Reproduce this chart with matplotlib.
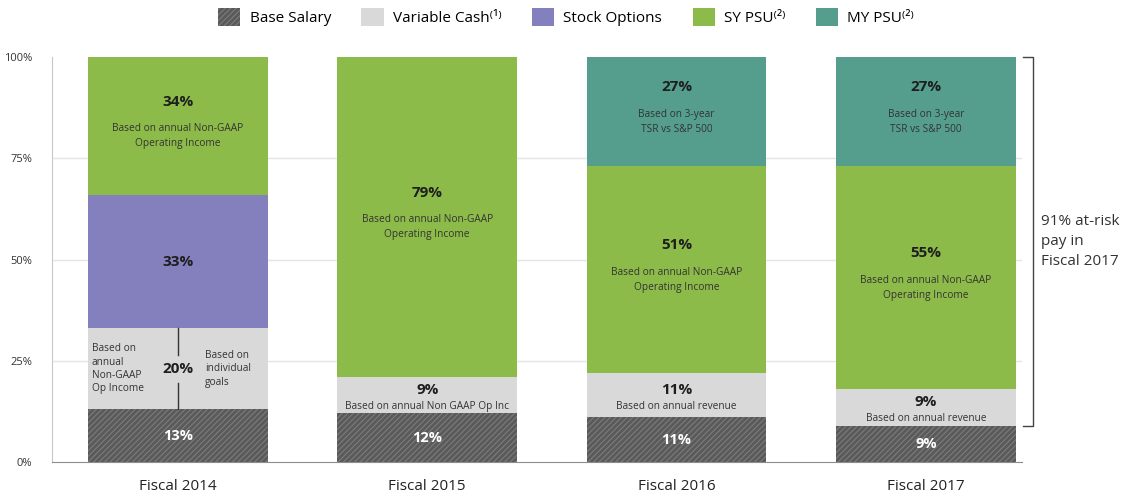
import matplotlib.pyplot as plt
import matplotlib.patches as mpatches

plt.rcParams['font.family'] = ['Open Sans', 'DejaVu Sans']
plt.rcParams['hatch.linewidth'] = 0.8

years = ['Fiscal 2014', 'Fiscal 2015', 'Fiscal 2016', 'Fiscal 2017']
components = ['Base Salary', 'Variable Cash\u207d\u00b9\u207e', 'Stock Options',
              'SY PSU\u207d\u00b2\u207e', 'MY PSU\u207d\u00b2\u207e']
base_salary = [13, 12, 11, 9]
variable_cash = [20, 9, 11, 9]
stock_options = [33, 0, 0, 0]
sy_psu = [34, 79, 51, 55]
my_psu = [0, 0, 27, 27]

var_notes = [None, 'Based on annual Non GAAP Op Inc',
             'Based on annual revenue', 'Based on annual revenue']
var_split_notes = ['Based on\nannual\nNon-GAAP\nOp Income', 'Based on\nindividual\ngoals']
sy_note = 'Based on annual Non-GAAP\nOperating Income'
my_note = 'Based on 3-year\nTSR vs S&P 500'
at_risk = 91

colors = ['#5a5a5a', '#d9d9d9', '#8480be', '#8dbb49', '#559e8e']

fig = plt.figure(figsize=(11.28, 4.98), dpi=100)
ax = fig.add_axes([0.046, 0.0723, 0.86, 0.8132])

x = list(range(len(years)))
w = 0.72
series = [base_salary, variable_cash, stock_options, sy_psu, my_psu]
bottoms = [0] * len(years)
seg = []
for k, vals in enumerate(series):
    if k == 0:
        ax.bar(x, vals, w, bottom=bottoms, color=colors[k], edgecolor='#7c7c7c',
               hatch='//////', linewidth=0, zorder=2)
    else:
        ax.bar(x, vals, w, bottom=bottoms, color=colors[k], linewidth=0, zorder=2)
    seg.append(list(zip(bottoms, vals)))
    bottoms = [b + v for b, v in zip(bottoms, vals)]

txt = '#1e1e1e'
note_c = '#333333'
for i in x:
    # base salary
    b, v = seg[0][i]
    ax.text(i, b + v / 2, f'{v}%', color='white', ha='center', va='center',
            fontsize=10.5, fontweight='bold', zorder=3)
    # variable cash
    b, v = seg[1][i]
    if var_notes[i] is None:
        ax.text(i, b + v / 2, f'{v}%', color=txt, ha='center', va='center',
                fontsize=11, fontweight='bold', zorder=3)
        ax.text(i - 0.345, b + v / 2, var_split_notes[0], color=note_c, ha='left',
                va='center', fontsize=7.3, linespacing=1.3, zorder=3)
        ax.text(i + 0.108, b + v / 2, var_split_notes[1], color=note_c, ha='left',
                va='center', fontsize=7.3, linespacing=1.3, zorder=3)
        ax.plot([i, i], [b + v, b + v * 0.665], color='#333333', lw=1, zorder=3)
        ax.plot([i, i], [b + v * 0.325, b], color='#333333', lw=1, zorder=3)
    else:
        ax.text(i, b + v / 2 + 1.3, f'{v}%', color=txt, ha='center', va='center',
                fontsize=11, fontweight='bold', zorder=3)
        ax.text(i, b + v / 2 - 2.8, var_notes[i], color=note_c, ha='center',
                va='center', fontsize=7.3, zorder=3)
    # stock options
    b, v = seg[2][i]
    if v:
        ax.text(i, b + v / 2, f'{v}%', color=txt, ha='center', va='center',
                fontsize=11, fontweight='bold', zorder=3)
    # SY / MY PSU
    for k, note in [(3, sy_note), (4, my_note)]:
        b, v = seg[k][i]
        if v:
            c = b + v / 2
            ax.text(i, c + 6, f'{v}%', color=txt, ha='center', va='center',
                    fontsize=11, fontweight='bold', zorder=3)
            ax.text(i, c - 2.5, note, color=note_c, ha='center', va='center',
                    fontsize=7.3, linespacing=1.45, zorder=3)

ax.set_xlim(-0.505, 3.385)
ax.set_ylim(0, 100)
ax.set_yticks([0, 25, 50, 75, 100])
ax.set_yticklabels(['0%', '25%', '50%', '75%', '100%'], fontsize=8, color='#333333')
ax.set_xticks(x)
ax.set_xticklabels(years, fontsize=11, color='#222222')
ax.tick_params(length=0)
ax.tick_params(axis='y', pad=14)
ax.tick_params(axis='x', pad=12)
for yv in [25, 50, 75]:
    ax.axhline(yv, color='#e4e4e4', lw=1, zorder=1)
for s in ['top', 'right']:
    ax.spines[s].set_visible(False)
ax.spines['left'].set_color('#c8c8c8')
ax.spines['bottom'].set_color('#8c8c8c')

# at-risk bracket for the last year
last = len(years) - 1
lo = base_salary[last]
bx = last + 0.43
ax.plot([bx - 0.04, bx, bx, bx - 0.04], [100, 100, lo, lo], color='#444444',
        lw=1, clip_on=False)
ax.text(bx + 0.03, 54.5, f'{at_risk}% at-risk\npay in\nFiscal {years[last][-4:]}',
        ha='left', va='center', fontsize=11, color='#333333',
        linespacing=1.45, clip_on=False)

handles = [mpatches.Patch(facecolor=colors[0], edgecolor='#7c7c7c', hatch='//////', lw=0)]
handles += [mpatches.Patch(facecolor=c, lw=0) for c in colors[1:]]
fig.legend(handles, components, loc='upper center', bbox_to_anchor=(0.502, 1.012),
           ncol=5, frameon=False, fontsize=11, handlelength=1.45, handleheight=1.45,
           columnspacing=2.0, handletextpad=0.6)

fig.savefig('out.png', dpi=100)
